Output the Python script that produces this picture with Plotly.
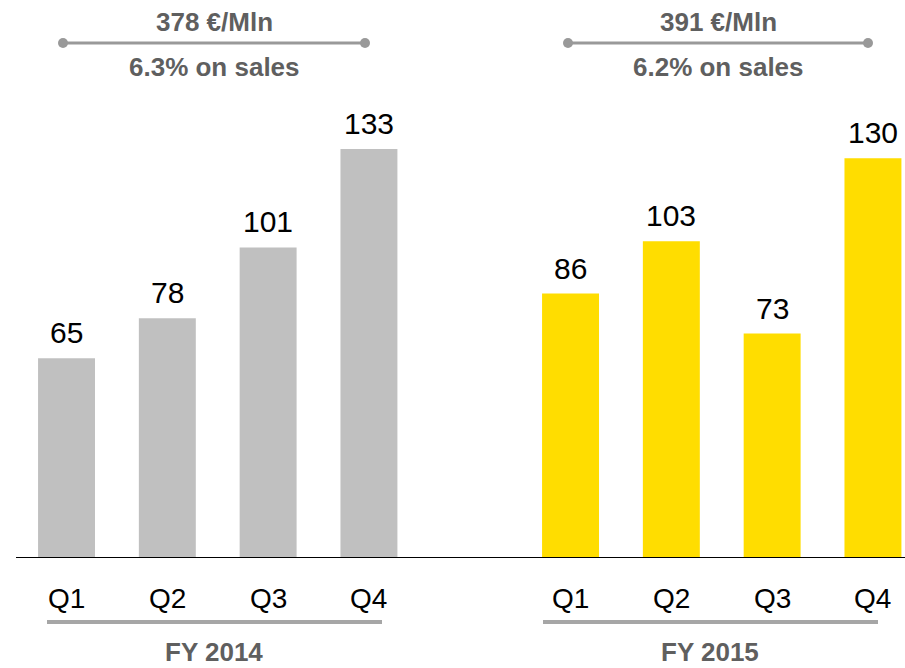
import plotly.graph_objects as go

quarters = ["Q1", "Q2", "Q3", "Q4"]
fy2014 = [65, 78, 101, 133]
fy2015 = [86, 103, 73, 130]
year_labels = ["FY 2014", "FY 2015"]
totals = ["378 €/Mln", "391 €/Mln"]
margins_on_sales = ["6.3% on sales", "6.2% on sales"]

W, H = 905, 668
FONT = "Liberation Sans, Arial, sans-serif"
GREY_TXT = "#5F5F5F"

pos14 = [0, 1, 2, 3]
pos15 = [5, 6, 7, 8]

fig = go.Figure()
fig.add_trace(go.Bar(x=pos14, y=fy2014, marker_color="#C0C0C0", width=0.565,
                     marker_line_width=0, hoverinfo="skip"))
fig.add_trace(go.Bar(x=pos15, y=fy2015, marker_color="#FFDD00", width=0.565,
                     marker_line_width=0, hoverinfo="skip"))

ann = []
for xs, vals in ((pos14, fy2014), (pos15, fy2015)):
    for x, v, q in zip(xs, vals, quarters):
        ann.append(dict(x=x, y=v, xref="x", yref="y", text=str(v), showarrow=False,
                        yanchor="bottom", yshift=7, font=dict(size=30, color="#000000", family=FONT)))
        ann.append(dict(x=x, y=1 - 598 / H, xref="x", yref="paper", text=q, showarrow=False,
                        yanchor="middle", font=dict(size=28, color="#000000", family=FONT)))

def px(x):
    return x / W

def py(y):
    return 1 - y / H

shapes = []
# baseline axis line
shapes.append(dict(type="line", xref="paper", yref="y", x0=px(16), x1=1, y0=0, y1=0,
                   line=dict(color="#000000", width=2)))

groups = [
    dict(top=(63, 365), bottom=(47, 382), cx=214, fycx=214),
    dict(top=(568, 868), bottom=(543, 878), cx=718, fycx=710),
]
for g, yl, tot, mos in zip(groups, year_labels, totals, margins_on_sales):
    x0, x1 = g["top"]
    shapes.append(dict(type="line", xref="paper", yref="paper", x0=px(x0), x1=px(x1),
                       y0=py(43), y1=py(43), line=dict(color="#999999", width=3)))
    for xc in (x0, x1):
        r = 5
        shapes.append(dict(type="circle", xref="paper", yref="paper",
                           x0=px(xc - r), x1=px(xc + r), y0=py(43 + r), y1=py(43 - r),
                           fillcolor="#999999", line=dict(width=0)))
    b0, b1 = g["bottom"]
    shapes.append(dict(type="line", xref="paper", yref="paper", x0=px(b0), x1=px(b1),
                       y0=py(622), y1=py(622), line=dict(color="#A6A6A6", width=4)))
    ann.append(dict(x=px(g["cx"]), y=py(22), xref="paper", yref="paper", text="<b>%s</b>" % tot,
                    showarrow=False, xanchor="center", yanchor="middle",
                    font=dict(size=26, color=GREY_TXT, family=FONT)))
    ann.append(dict(x=px(g["cx"]), y=py(67), xref="paper", yref="paper", text="<b>%s</b>" % mos,
                    showarrow=False, xanchor="center", yanchor="middle",
                    font=dict(size=26, color=GREY_TXT, family=FONT)))
    ann.append(dict(x=px(g["fycx"]), y=0, xref="paper", yref="paper", text="<b>%s</b>" % yl,
                    showarrow=False, xanchor="center", yanchor="bottom", borderpad=0,
                    font=dict(size=26, color=GREY_TXT, family=FONT)))

fig.update_layout(
    width=W, height=H,
    margin=dict(l=0, r=0, t=0, b=0),
    paper_bgcolor="white", plot_bgcolor="white",
    showlegend=False,
    xaxis=dict(range=[-0.66, 8.318], visible=False, domain=[0, 1]),
    yaxis=dict(range=[0, 181.5], visible=False, domain=[110 / H, 1]),
    annotations=ann, shapes=shapes,
    font=dict(family=FONT),
)

fig.write_html("out.html")
